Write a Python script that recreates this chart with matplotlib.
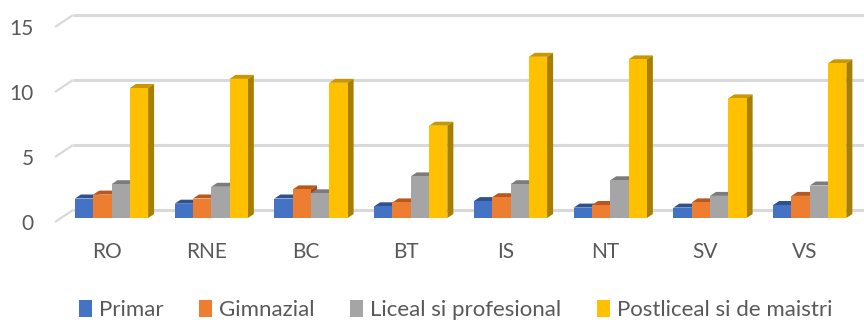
import matplotlib
matplotlib.use("Agg")
import matplotlib.pyplot as plt
from matplotlib.patches import Polygon, Patch
import numpy as np

categories = ["RO", "RNE", "BC", "BT", "IS", "NT", "SV", "VS"]
series_names = ["Primar", "Gimnazial", "Liceal si profesional", "Postliceal si de maistri"]
primar = [1.5, 1.1, 1.5, 0.9, 1.3, 0.8, 0.8, 1.0]
gimnazial = [1.8, 1.5, 2.2, 1.2, 1.6, 1.0, 1.2, 1.7]
liceal = [2.6, 2.4, 1.9, 3.2, 2.6, 2.9, 1.7, 2.5]
postliceal = [10.0, 10.7, 10.4, 7.1, 12.4, 12.2, 9.2, 11.9]
y_ticks = [0, 5, 10, 15]

series = [primar, gimnazial, liceal, postliceal]
front_colors = ["#4472C4", "#ED7D31", "#A5A5A5", "#FFC000"]
top_colors = ["#2F528F", "#B8581F", "#7C7C7C", "#C99800"]
side_colors = ["#2A4A80", "#A24D1B", "#6E6E6E", "#A67E00"]
text_color = "#595959"
grid_color = "#D9D9D9"

plt.rcParams["font.family"] = ["Lato", "DejaVu Sans"]

W, H, DPI = 864, 320, 100
fig = plt.figure(figsize=(W / DPI, H / DPI), dpi=DPI)
ax = fig.add_axes([0, 0, 1, 1])
ax.set_axis_off()

# scale: one category = 99.75 px, one unit of value = 13 px
px_cat = 99.75
px_val = 13.0
x_origin_px = 111.5
y_origin_px = 218.0
ax.set_xlim(-x_origin_px / px_cat, (W - x_origin_px) / px_cat)
ax.set_ylim((y_origin_px - H) / px_val, y_origin_px / px_val)


def dx(px):
    return px / px_cat


def dy(px):
    return px / px_val


# back wall gridlines with their floor diagonals
wall_left = dx(73 - x_origin_px)
front_left = dx(55 - x_origin_px)
x_right = ax.get_xlim()[1]
for v in y_ticks:
    yb = v + dy(8)
    yf = v - dy(4)
    ax.plot([wall_left, x_right], [yb, yb], color=grid_color, lw=2.2,
            solid_capstyle="butt", zorder=1)
    ax.plot([front_left, wall_left], [yf, yb], color=grid_color, lw=1.6,
            solid_capstyle="butt", zorder=1)
    ax.text(dx(34 - x_origin_px), v - dy(6), str(v), ha="right", va="center",
            fontsize=15, color=text_color)

# 3D-style bars: front via ax.bar, top and side faces as polygons
bar_w = dx(18.3)
depth_x, depth_y = dx(6), dy(4)
x = np.arange(len(categories))
offsets = (np.arange(4) - 1.5) * bar_w
for s, vals in enumerate(series):
    xs = x + offsets[s]
    z = 2 + s
    ax.bar(xs, vals, width=bar_w, color=front_colors[s], zorder=z + 0.5,
           edgecolor="none")
    for xi, v in zip(xs, vals):
        x0, x1 = xi - bar_w / 2, xi + bar_w / 2
        top = Polygon([(x0, v), (x1, v), (x1 + depth_x, v + depth_y),
                       (x0 + depth_x, v + depth_y)], closed=True,
                      facecolor=top_colors[s], edgecolor="none", zorder=z)
        side = Polygon([(x1, 0), (x1, v), (x1 + depth_x, v + depth_y),
                        (x1 + depth_x, depth_y)], closed=True,
                       facecolor=side_colors[s], edgecolor="none", zorder=z)
        ax.add_patch(top)
        ax.add_patch(side)

for xi, lab in zip(x, categories):
    ax.text(xi - dx(5), dy(y_origin_px - 252), lab, ha="center", va="center",
            fontsize=15, color=text_color)

handles = [Patch(facecolor=c, edgecolor="none") for c in front_colors]
fig.legend(handles, series_names, loc="center", ncol=4,
           bbox_to_anchor=(455.5 / W, 1 - 310 / H), frameon=False,
           fontsize=16, labelcolor=text_color, handlelength=0.6,
           handleheight=0.85, handletextpad=0.3, columnspacing=1.6,
           borderpad=0, borderaxespad=0)

fig.savefig("out.png", dpi=DPI)
